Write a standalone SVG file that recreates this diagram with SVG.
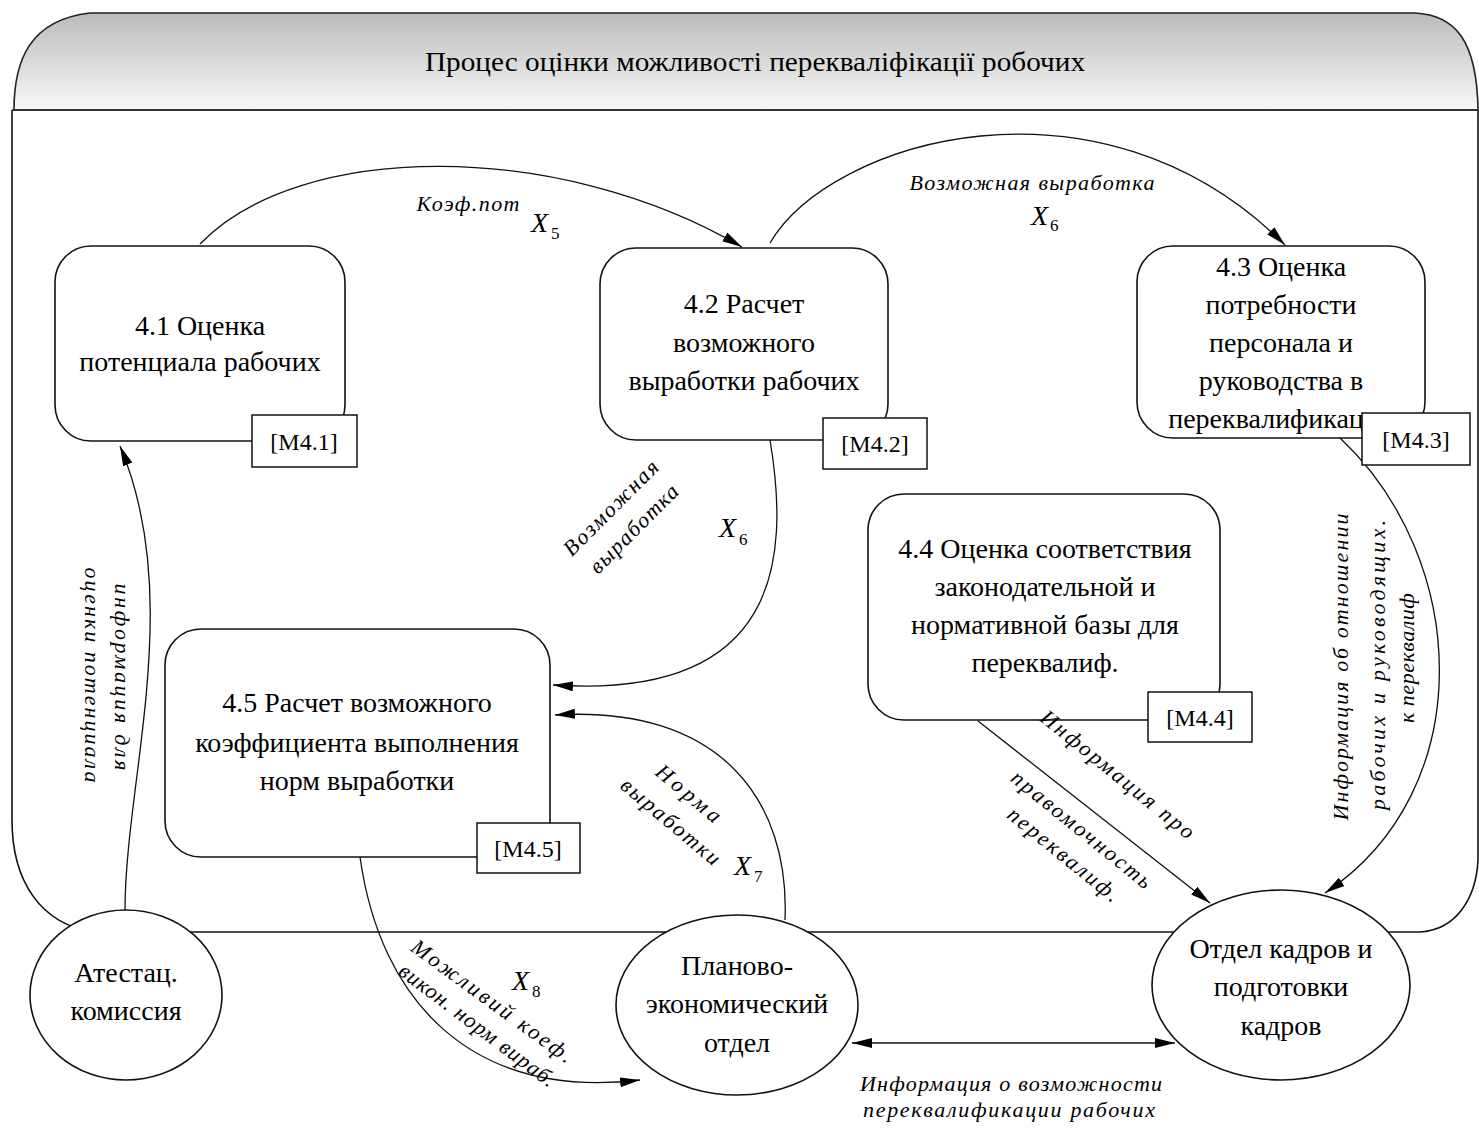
<svg xmlns="http://www.w3.org/2000/svg" width="1479" height="1129" viewBox="0 0 1479 1129">
<style>
.node{fill:#fff;stroke:#111;stroke-width:1.6}
.mbox{fill:#fff;stroke:#111;stroke-width:1.5}
.t{font-family:"Liberation Serif","Times New Roman",serif;font-size:28px;fill:#000;text-anchor:middle}
.m{font-family:"Liberation Serif","Times New Roman",serif;font-size:24px;fill:#000;text-anchor:middle}
.lbl{font-family:"Liberation Serif","Times New Roman",serif;font-style:italic;font-size:22px;fill:#000;text-anchor:middle}
.x{font-family:"Liberation Serif","Times New Roman",serif;font-style:italic;font-size:28px;fill:#000}
.xs{font-family:"Liberation Serif","Times New Roman",serif;font-size:17px;fill:#000}
.c{fill:none;stroke:#111;stroke-width:1.3}
</style>
<defs>
<linearGradient id="hg" x1="0" y1="0" x2="0" y2="1">
<stop offset="0" stop-color="#bbbbbb"/>
<stop offset="1" stop-color="#f8f8f8"/>
</linearGradient>
<marker id="ah" viewBox="0 0 20 10" refX="20" refY="5" markerWidth="20" markerHeight="11" orient="auto-start-reverse" markerUnits="userSpaceOnUse">
<path d="M0,0 L20,5 L0,10 z" fill="#000"/>
</marker>
</defs>
<rect width="1479" height="1129" fill="#fff"/>
<g id="container">
<path d="M12,110 L12,820 C12,880 40,925 95,932 L1420,932 C1455,930 1476,900 1478,860 L1478,110" fill="#fff" stroke="#111" stroke-width="1.6"/>
<path d="M14,110 C14,60 30,20 90,13 L1415,13 C1455,15 1477,40 1478,110 Z" fill="url(#hg)" stroke="#222" stroke-width="1.6"/>
<line x1="12" y1="110" x2="1478" y2="110" stroke="#333" stroke-width="2.2"/>
<text class="t" x="755" y="71" textLength="660" lengthAdjust="spacingAndGlyphs">Процес оцінки можливості перекваліфікації робочих</text>
</g>
<g id="connectors">
<path class="c" d="M200,244 C300,140 560,140 742,247" marker-end="url(#ah)"/>
<path class="c" d="M770,243 C830,140 1100,60 1285,245" marker-end="url(#ah)"/>
<path class="c" d="M770,440 C790,560 780,700 553,685" marker-end="url(#ah)"/>
<path class="c" d="M785,920 C790,800 720,705 555,715" marker-end="url(#ah)"/>
<path class="c" d="M360,857 C380,1000 470,1100 640,1080" marker-end="url(#ah)"/>
<path class="c" d="M125,910 C125,780 185,600 120,446" marker-end="url(#ah)"/>
<path class="c" d="M978,721 L1210,903" marker-end="url(#ah)"/>
<path class="c" d="M1340,438 C1470,560 1480,790 1325,893" marker-end="url(#ah)"/>
<path class="c" d="M852,1043 L1175,1043" marker-start="url(#ah)" marker-end="url(#ah)"/>
</g>
<g id="n41">
<rect class="node" x="55" y="246" width="290" height="195" rx="36"/>
<text class="t" x="200" y="335">4.1 Оценка</text>
<text class="t" x="200" y="371">потенциала рабочих</text>
<rect class="mbox" x="252" y="415" width="105" height="52"/>
<text class="m" x="304" y="450">[M4.1]</text>
</g>
<g id="n42">
<rect class="node" x="600" y="248" width="288" height="192" rx="36"/>
<text class="t" x="744" y="313">4.2 Расчет</text>
<text class="t" x="744" y="352">возможного</text>
<text class="t" x="744" y="390">выработки рабочих</text>
<rect class="mbox" x="823" y="418" width="104" height="51"/>
<text class="m" x="875" y="452">[M4.2]</text>
</g>
<g id="n43">
<rect class="node" x="1137" y="246" width="288" height="192" rx="36"/>
<text class="t" x="1281" y="276">4.3 Оценка</text>
<text class="t" x="1281" y="314">потребности</text>
<text class="t" x="1281" y="352">персонала и</text>
<text class="t" x="1281" y="390">руководства в</text>
<text class="t" x="1281" y="428">переквалификации</text>
<rect class="mbox" x="1362" y="413" width="108" height="52"/>
<text class="m" x="1416" y="448">[M4.3]</text>
</g>
<g id="n44">
<rect class="node" x="868" y="494" width="352" height="226" rx="36"/>
<text class="t" x="1045" y="558">4.4 Оценка соответствия</text>
<text class="t" x="1045" y="596">законодательной и</text>
<text class="t" x="1045" y="634">нормативной базы для</text>
<text class="t" x="1045" y="672">переквалиф.</text>
<rect class="mbox" x="1148" y="692" width="104" height="50"/>
<text class="m" x="1200" y="726">[M4.4]</text>
</g>
<g id="n45">
<rect class="node" x="165" y="629" width="385" height="228" rx="36"/>
<text class="t" x="357" y="712">4.5 Расчет возможного</text>
<text class="t" x="357" y="752">коэффициента выполнения</text>
<text class="t" x="357" y="790">норм выработки</text>
<rect class="mbox" x="477" y="823" width="103" height="50"/>
<text class="m" x="528" y="857">[M4.5]</text>
</g>
<g id="attest">
<ellipse class="node" cx="126" cy="995" rx="96" ry="85"/>
<text class="t" x="126" y="982">Атестац.</text>
<text class="t" x="126" y="1020">комиссия</text>
</g>
<g id="planovo">
<ellipse class="node" cx="737" cy="1005" rx="121" ry="90"/>
<text class="t" x="737" y="975">Планово-</text>
<text class="t" x="737" y="1013">экономический</text>
<text class="t" x="737" y="1052">отдел</text>
</g>
<g id="kadry">
<ellipse class="node" cx="1281" cy="985" rx="129" ry="95"/>
<text class="t" x="1281" y="958">Отдел кадров и</text>
<text class="t" x="1281" y="996">подготовки</text>
<text class="t" x="1281" y="1035">кадров</text>
</g>
<g id="labels">
<text class="lbl" x="468" y="211" textLength="103" lengthAdjust="spacing">Коэф.пот</text>
<text class="x" x="531" y="232">X</text><text class="xs" x="551" y="239">5</text>
<text class="lbl" x="1032" y="190" textLength="245" lengthAdjust="spacing">Возможная выработка</text>
<text class="x" x="1031" y="225">X</text><text class="xs" x="1050" y="231">6</text>
<text class="lbl" transform="translate(616,513) rotate(-45)" textLength="125" lengthAdjust="spacing">Возможная</text>
<text class="lbl" transform="translate(639,534) rotate(-45)" textLength="116" lengthAdjust="spacing">выработка</text>
<text class="x" x="719" y="537">X</text><text class="xs" x="739" y="545">6</text>
<text class="lbl" transform="translate(684,799) rotate(40)" textLength="78" lengthAdjust="spacing">Норма</text>
<text class="lbl" transform="translate(666,827) rotate(40)" textLength="123" lengthAdjust="spacing">выработки</text>
<text class="x" x="734" y="875">X</text><text class="xs" x="754" y="882">7</text>
<text class="lbl" transform="translate(488,1007) rotate(36)" textLength="194" lengthAdjust="spacing">Можливий коеф.</text>
<text class="lbl" transform="translate(473,1031) rotate(37)" textLength="190" lengthAdjust="spacing">викон. норм вираб.</text>
<text class="x" x="512" y="990">X</text><text class="xs" x="532" y="997">8</text>
<text class="lbl" transform="translate(115,677) rotate(90)" textLength="187" lengthAdjust="spacing">информация для</text>
<text class="lbl" transform="translate(85,675) rotate(90)" textLength="215" lengthAdjust="spacing">оценки потенциала</text>
<text class="lbl" transform="translate(1113,780) rotate(39)" textLength="191" lengthAdjust="spacing">Информация про</text>
<text class="lbl" transform="translate(1077,835) rotate(39)" textLength="174" lengthAdjust="spacing">правомочность</text>
<text class="lbl" transform="translate(1059,860) rotate(39)" textLength="137" lengthAdjust="spacing">переквалиф.</text>
<text class="lbl" transform="translate(1348,667) rotate(-90)" textLength="307" lengthAdjust="spacing">Информация об отношении</text>
<text class="lbl" transform="translate(1385,665) rotate(-90)" textLength="290" lengthAdjust="spacing">рабочих и руководящих.</text>
<text class="lbl" transform="translate(1414,658) rotate(-90)" textLength="130" lengthAdjust="spacing">к переквалиф</text>
<text class="lbl" x="1011" y="1091" textLength="302" lengthAdjust="spacing">Информация о возможности</text>
<text class="lbl" x="1009" y="1117" textLength="292" lengthAdjust="spacing">переквалификации рабочих</text>
</g>
</svg>
